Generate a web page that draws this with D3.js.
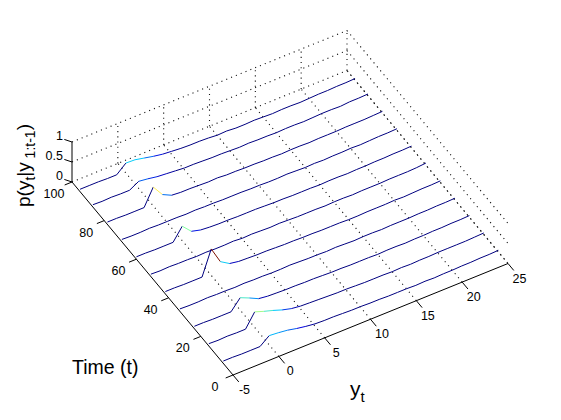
<!DOCTYPE html>
<html><head><meta charset="utf-8">
<script src="https://cdn.jsdelivr.net/npm/d3@7"></script>
<style>html,body{margin:0;padding:0;background:#fff}svg{display:block}text{font-family:"Liberation Sans",Arial,sans-serif;fill:#000}</style>
</head><body><svg id="c" width="561" height="420"></svg>
<script>
const yGrid = d3.range(-5, 26);
const yTicks = [-5,0,5,10,15,20,25];
const tTicks = [0,20,40,60,80,100];
const zTicks = [0,0.5,1];
const zTickLabels = ["0","0.5","1"];
const tValues = [95,87,78,69,60,51,42,33,24,15,6];
const d95 = [.06,.06,.06,.05,.05,.25,.24,.19,.14,.10,.08,.06,.05,.05,.04,.02,.03,.01,.01,.02,.01,.00,.01,.01,.00,.01,.02,.02,.03,.03,.04];
const d87 = [.06,.05,.06,.05,.05,.18,.15,.11,.09,.07,.05,.05,.04,.03,.03,.02,.01,.02,.01,.01,.00,.01,.01,.00,.01,.02,.02,.01,.03,.03,.04];
const d78 = [.06,.06,.05,.05,.05,.47,.19,.08,.06,.06,.05,.04,.05,.03,.03,.02,.02,.01,.01,.00,.01,.01,.00,.01,.01,.01,.02,.02,.02,.03,.04];
const d69 = [.06,.05,.05,.06,.05,.05,.05,.04,.05,.04,.04,.03,.03,.03,.02,.02,.01,.01,.02,.01,.00,.01,.00,.01,.01,.02,.01,.02,.03,.03,.04];
const d60 = [.06,.06,.05,.05,.05,.36,.14,.08,.06,.05,.05,.04,.04,.04,.03,.02,.02,.01,.01,.01,.00,.01,.01,.00,.01,.01,.02,.02,.03,.03,.04];
const d51 = [.06,.05,.06,.05,.05,.04,.05,.04,.04,.05,.03,.04,.03,.02,.03,.02,.01,.01,.01,.00,.01,.01,.00,.01,.01,.01,.02,.02,.02,.03,.05];
const d42 = [.06,.06,.05,.05,.05,.66,.25,.11,.07,.06,.05,.05,.04,.03,.03,.02,.02,.01,.01,.01,.00,.00,.01,.01,.01,.02,.01,.02,.03,.03,.04];
const d33 = [.06,.05,.05,.06,.05,.05,.04,.05,.04,.04,.03,.03,.04,.03,.02,.02,.01,.02,.01,.00,.01,.01,.00,.01,.01,.01,.02,.02,.03,.03,.04];
const d24 = [.06,.06,.05,.05,.05,.31,.21,.10,.07,.06,.05,.05,.04,.04,.03,.02,.02,.01,.01,.01,.00,.01,.01,.00,.01,.01,.02,.02,.03,.03,.04];
const d15 = [.06,.05,.06,.05,.05,.39,.31,.24,.16,.10,.07,.06,.05,.04,.03,.03,.02,.01,.01,.01,.00,.01,.00,.01,.01,.02,.02,.02,.02,.03,.04];
const d6  = [.06,.06,.05,.05,.05,.23,.21,.18,.13,.09,.06,.05,.05,.04,.03,.03,.02,.02,.01,.01,.01,.00,.01,.00,.01,.01,.02,.02,.03,.03,.04];
const densities = [d95,d87,d78,d69,d60,d51,d42,d33,d24,d15,d6];

const colour = d3.scaleLinear()
  .domain([0,.07,.13,.24,.36,.47,.58,.66])
  .range(["#00007f","#00007f","#0000e0","#00c8ff","#80ffa0","#ffee50","#e02000","#7f1000"]);

// oblique projection: screen position is the sum of one scale per data axis
const sxY = d3.scaleLinear().domain([-5,25]).range([0,275]);
const syY = d3.scaleLinear().domain([-5,25]).range([0,-111.5]);
const sxT = d3.scaleLinear().domain([0,100]).range([233,72]);
const syT = d3.scaleLinear().domain([0,100]).range([375,182]);
const syZ = d3.scaleLinear().domain([0,1]).range([0,-40]);
const P = (y,t,z) => [sxY(y)+sxT(t), syY(y)+syT(t)+syZ(z)];

const svg = d3.select("#c");
const line = d3.line();
const seg = (a,b,cls) => svg.append("path").attr("d", line([a,b])).attr("class",cls)
  .attr("fill","none");

// dotted grid
const gridG = (a,b) => seg(a,b,"grid").attr("stroke","#111").attr("stroke-width",1.1)
  .attr("stroke-dasharray","1.1 4.1");
yTicks.forEach(y => { if (y>-5) { gridG(P(y,100,0),P(y,100,1)); gridG(P(y,0,0),P(y,100,0)); } });
zTicks.forEach(z => { gridG(P(-5,100,z),P(25,100,z)); gridG(P(25,100,z),P(25,0,z)); });

// series
densities.forEach((vals,i) => {
  const t = tValues[i];
  vals.forEach((v,k) => {
    if (k===vals.length-1) return;
    seg(P(yGrid[k],t,v),P(yGrid[k+1],t,vals[k+1]),"s").attr("stroke",colour(v)).attr("stroke-width",1);
  });
});

// axes
const ax = (a,b) => seg(a,b,"axis").attr("stroke","#000").attr("stroke-width",1);
ax(P(-5,0,0),P(25,0,0));
ax(P(-5,0,0),P(-5,100,0));
ax(P(-5,100,0),P(-5,100,1));
yTicks.forEach(y => ax(P(y,0,0),P(y,-3.6,0)));
tTicks.forEach(t => ax(P(-5,t,0),P(-5.8,t,0)));
zTicks.forEach(z => ax(P(-5,100,z),P(-5.45,100+2.2,z)));

const label = (pos,s,anchor="middle") => svg.append("text").attr("x",pos[0]).attr("y",pos[1])
  .attr("text-anchor",anchor).attr("font-size",12.5).text(s);
yTicks.forEach(y => { const p=P(y,0,0); label([p[0]+11.5,p[1]+19],String(y)); });
tTicks.forEach(t => { const p=P(-5,t,0); label([p[0]-18,p[1]+16],String(t)); });
zTicks.forEach((z,i) => { const p=P(-5,100,z); label([p[0]-9,p[1]-2],zTickLabels[i],"end"); });

// axis titles
svg.append("text").attr("x",72).attr("y",374).attr("font-size",19.5).text("Time (t)");
const yl = svg.append("text").attr("x",350).attr("y",396).attr("font-size",21);
yl.append("tspan").text("y");
yl.append("tspan").attr("dy",6).attr("font-size",15).text("t");
const zl = svg.append("text").attr("transform","translate(30,207) rotate(-90)").attr("font-size",19);
zl.append("tspan").text("p(y");
zl.append("tspan").attr("dy",5).attr("font-size",14).text("t");
zl.append("tspan").attr("dy",-5).text("|y");
zl.append("tspan").attr("dy",5).attr("font-size",14).text(" 1:t-1");
zl.append("tspan").attr("dy",-5).text(")");
</script></body></html>
